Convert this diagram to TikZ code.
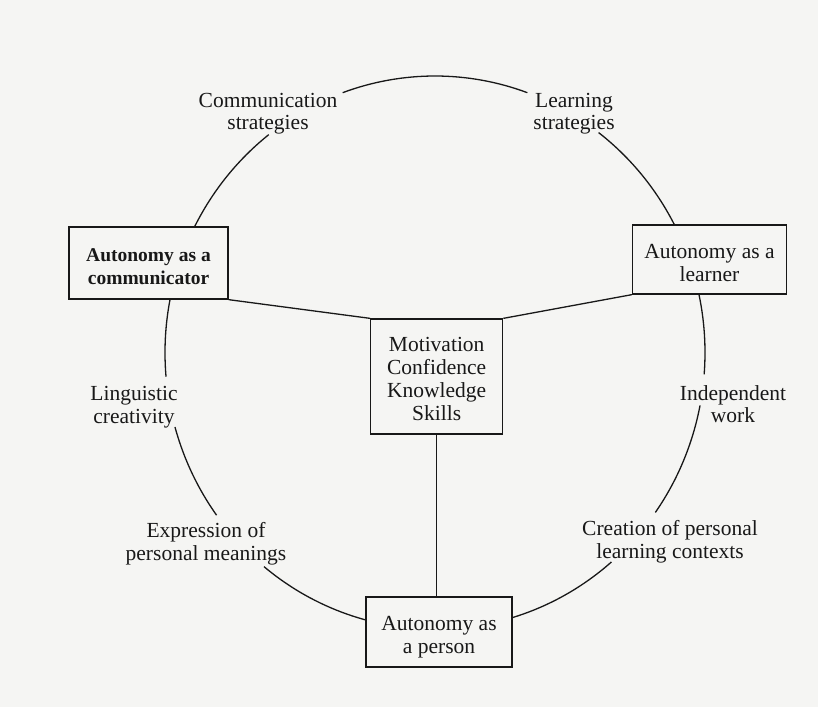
\documentclass[tikz,border=0pt]{standalone}
\usepackage{fontspec}
\setmainfont{Liberation Serif}
\definecolor{paper}{RGB}{245,245,243}
\definecolor{ink}{RGB}{24,24,24}
\newcommand\lowertext[1]{\rule{0pt}{#1pt}}
\tikzset{
  ringline/.style={draw=ink, line width=1.3pt},
  linkline/.style={draw=ink, line width=1.3pt},
  plainbox/.style={draw=ink, line width=1.3pt, fill=paper, align=center, inner sep=0pt,
    text=ink, font=\fontsize{21.5}{23}\selectfont},
  boldbox/.style={plainbox, font=\fontsize{19.5}{23}\selectfont\bfseries},
  lbl/.style={align=center, inner sep=0pt, text=ink, font=\fontsize{21.5}{22.5}\selectfont}
}
% arcs of the ring: angles measured counter-clockwise on the page
\newcommand\ringarc[2]{\draw[ringline] ([shift={(435,352.6)}]#1:270pt and 276.6pt)
  arc[start angle=#1, end angle=#2, x radius=270pt, y radius=276.6pt];}
\begin{document}
\begin{tikzpicture}[x=1pt,y=-1pt]
\fill[paper] (0,0) rectangle (818,707);
\useasboundingbox (0,0) rectangle (818,707);
% ring segments
\ringarc{70}{110}
\ringarc{128}{185}
\ringarc{195.6}{216}
\ringarc{230.7}{310.8}
\ringarc{324.7}{349}
\ringarc{-4.5}{52.7}
% boxes
\node[boldbox, minimum width=159pt, minimum height=72pt] (comm) at (148.5,263) {\lowertext{20}Autonomy as a\\communicator};
\node[plainbox, minimum width=154pt, minimum height=69pt] (learner) at (709.5,259.5) {\lowertext{22}Autonomy as a\\learner};
\node[plainbox, minimum width=132pt, minimum height=115pt] (core) at (436.7,376.5) {\lowertext{19}Motivation\\Confidence\\Knowledge\\Skills};
\node[plainbox, minimum width=146pt, minimum height=70pt] (person) at (439,632) {\lowertext{24}Autonomy as\\a person};
% connectors
\draw[linkline] (comm.south east) -- (core.north west);
\draw[linkline] (learner.south west) -- (core.north east);
\draw[linkline] (core.south) -- (core.south |- person.north);
% labels
\node[lbl] (l1) at (268,113.5) {Communication\\strategies};
\node[lbl] (l2) at (574,113.5) {Learning\\strategies};
\node[lbl] (l3) at (134,407) {Linguistic\\creativity};
\node[lbl] (l4) at (206,543.5) {Expression of\\personal meanings};
\node[lbl] (l5) at (733,404) {Independent\\work};
\node[lbl] (l6) at (670,541.5) {Creation of personal\\learning contexts};
\end{tikzpicture}
\end{document}
